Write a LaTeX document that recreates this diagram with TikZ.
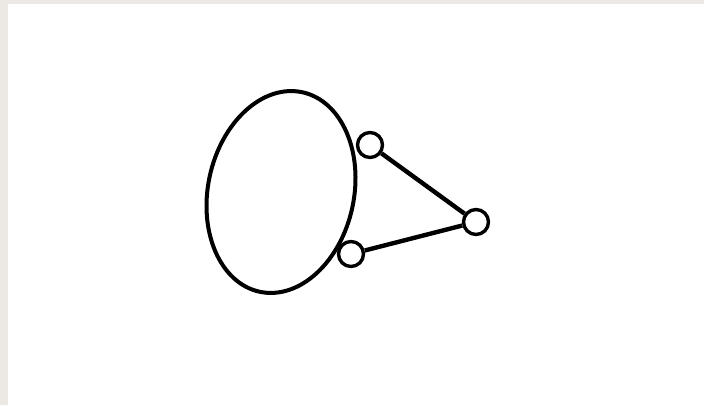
\documentclass[tikz,border=0pt]{standalone}
\usetikzlibrary{shapes.geometric}
\definecolor{frame}{HTML}{ECE8E4}

\begin{document}
\begin{tikzpicture}[
    x=1pt, y=-1pt,
    body/.style={ellipse, draw, line width=4pt, minimum width=146pt,
                 minimum height=204pt, inner sep=0pt, rotate=-12},
    joint/.style={circle, draw, fill=white, line width=3.4pt,
                  minimum size=25pt, inner sep=0pt},
    link/.style={line width=4.4pt},
]

% paper and frame
\fill[frame] (0,0) rectangle (704,405);
\fill[white] (8,4) rectangle (704,405);
\useasboundingbox (0,0) rectangle (704,405);

% the big oval
\node[body] (oval) at (281,192) {};

% the three small rings
\node[joint] (top) at (370,145) {};
\node[joint] (tip) at (476,222) {};
\node[joint] (low) at (351,254) {};

% the two bars
\draw[link] (top) -- (tip);
\draw[link] (low) -- (tip);

\end{tikzpicture}
\end{document}
